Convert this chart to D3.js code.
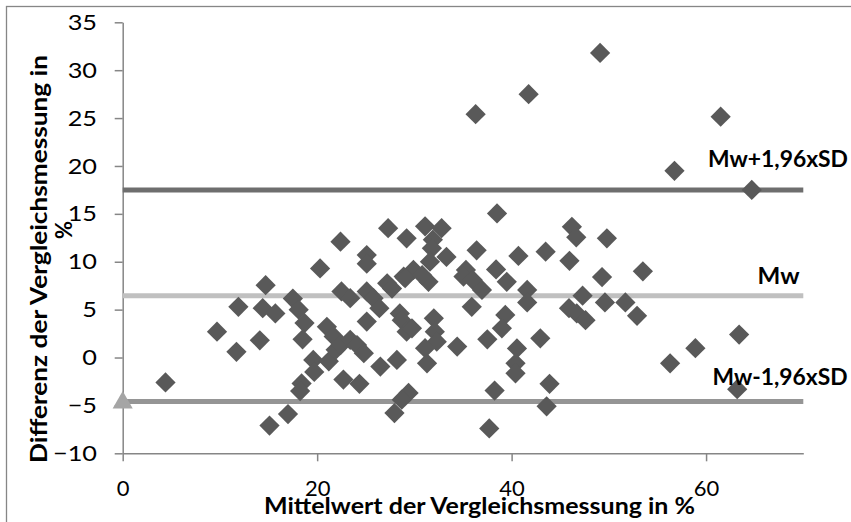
<!DOCTYPE html>
<html>
<head>
<meta charset="utf-8">
<script src="https://cdn.jsdelivr.net/npm/d3@7"></script>
<style>
body { margin: 0; background: #fff; }
text { font-family: Lato, "Open Sans", sans-serif; fill: #000; }
</style>
</head>
<body>
<script>
// Chart size and plot box
var w = 851;
var h = 522;
var plot = {left: 122.7, top: 22.3, right: 803.3, bottom: 453.3};

// Mean of both measurements (x) and their difference (y), in %
var meanVals = [4.4, 9.7, 11.7, 11.9, 14.7, 14.1, 14.4, 15.7, 15.1, 17.0,
    17.5, 18.1, 18.7, 18.5, 18.4, 18.25, 19.6, 19.7, 20.3, 21.0,
    21.2, 21.9, 21.7, 22.4, 22.5, 23.4, 22.7, 22.4, 23.4, 24.1,
    24.35, 24.8, 25.1, 25.1, 25.1, 25.1, 25.8, 26.4, 26.5, 27.3,
    27.2, 27.7, 28.2, 29.2, 28.9, 29.9, 28.5, 28.7, 29.2, 29.4,
    28.7, 27.95, 31.1, 32.8, 31.9, 31.8, 33.3, 31.6, 29.05, 31.45,
    30.8, 38.5, 36.4, 35.3, 35.05, 36.0, 36.95, 38.4, 39.5, 40.7,
    41.6, 41.6, 43.5, 46.2, 46.65, 45.95, 49.8, 49.3, 53.5, 47.3,
    45.9, 46.7, 47.6, 49.6, 51.7, 52.9, 35.9, 39.35, 39.0, 37.5,
    34.4, 40.55, 40.4, 40.4, 42.95, 43.9, 43.6, 38.25, 37.7, 56.3,
    58.9, 29.75, 32.0, 32.1, 32.3, 31.1, 31.3, 36.3, 41.75, 49.1,
    61.5, 56.75, 64.7, 63.4, 63.2];
var diffVals = [-2.6, 2.7, 0.6, 5.3, 7.55, 1.8, 5.15, 4.6, -7.1, -5.9,
    6.15, 5.0, 3.6, 1.9, -2.7, -3.5, -0.25, -1.5, 9.3, 3.2,
    -0.4, 0.8, 2.2, 12.1, 6.9, 6.2, -2.3, 1.3, 1.85, 1.3,
    -2.75, 0.45, 3.75, 10.7, 9.8, 6.9, 6.2, 5.15, -0.95, 13.5,
    7.75, 7.2, -0.25, 12.45, 8.45, 9.15, 4.6, 3.9, 2.7, -3.7,
    -4.4, -5.8, 13.7, 13.5, 12.3, 11.4, 10.5, 10.0, 8.3, 7.9,
    8.6, 15.05, 11.2, 9.15, 8.45, 8.1, 7.05, 9.2, 7.9, 10.6,
    7.05, 5.75, 11.05, 13.65, 12.55, 10.1, 12.45, 8.4, 9.0, 6.45,
    5.15, 4.6, 3.9, 5.75, 5.75, 4.35, 5.3, 4.45, 3.05, 1.9,
    1.15, 0.95, -0.6, -1.65, 2.0, -2.75, -5.1, -3.45, -7.4, -0.6,
    0.97, 3.05, 4.1, 2.7, 1.65, 0.97, -0.6, 25.4, 27.5, 31.8,
    25.15, 19.5, 17.5, 2.4, -3.3];

// Limits of agreement
var limitNames = ["Mw+1,96xSD", "Mw", "Mw-1,96xSD"];
var limitVals = [17.5, 6.45, -4.6];
var limitColors = ["#6e6e6e", "#c0c0c0", "#959595"];

// Axis ticks
var xTicks = [0, 20, 40, 60];
var yTicks = [-10, -5, 0, 5, 10, 15, 20, 25, 30, 35];

var xScale = d3.scaleLinear().domain([0, 70]).range([plot.left, plot.right]);
var yScale = d3.scaleLinear().domain([-10, 35]).range([plot.bottom, plot.top]);

var svg = d3.select("body")
    .append("svg")
    .attr("width", w)
    .attr("height", h);

// outer frame of the chart area (only left and top edge visible)
svg.append("rect")
    .attr("x", 6.5)
    .attr("y", 6.5)
    .attr("width", 1000)
    .attr("height", 1000)
    .attr("fill", "none")
    .attr("stroke", "#868686")
    .attr("stroke-width", 1.3);

// x axis
var xAxis = d3.axisBottom(xScale)
    .tickValues(xTicks)
    .tickSize(8)
    .tickSizeOuter(0)
    .tickPadding(18.8);

var gx = svg.append("g")
    .attr("transform", "translate(0," + plot.bottom + ")")
    .call(xAxis);

// y axis
var yAxis = d3.axisLeft(yScale)
    .tickValues(yTicks)
    .tickSize(8)
    .tickSizeOuter(0)
    .tickPadding(17.7);

var gy = svg.append("g")
    .attr("transform", "translate(" + plot.left + ",0)")
    .call(yAxis);

[gx, gy].forEach(function(g) {
    g.selectAll("path, line")
        .attr("stroke", "#868686")
        .attr("stroke-width", 1.5);
    g.selectAll("text")
        .attr("font-family", "Lato, sans-serif")
        .attr("font-size", 22)
        .attr("fill", "#000");
});

// the reference font runs a bit wider: stretch the tick labels
gy.selectAll("text").each(function() {
    var len = this.getComputedTextLength();
    d3.select(this)
        .attr("textLength", len * 1.15)
        .attr("lengthAdjust", "spacingAndGlyphs");
});

// limit lines
svg.selectAll(".limit")
    .data(limitVals)
    .enter()
    .append("line")
    .attr("class", "limit")
    .attr("x1", xScale(0))
    .attr("x2", xScale(70))
    .attr("y1", function(d) { return yScale(d); })
    .attr("y2", function(d) { return yScale(d); })
    .attr("stroke", function(d, i) { return limitColors[i]; })
    .attr("stroke-width", 5);

// points
var diamond = d3.symbol().type(d3.symbolSquare).size(205);
svg.selectAll(".pt")
    .data(meanVals)
    .enter()
    .append("path")
    .attr("class", "pt")
    .attr("d", diamond)
    .attr("fill", "#595959")
    .attr("transform", function(d, i) {
        return "translate(" + xScale(d) + "," + yScale(diffVals[i]) + ") rotate(45)";
    });

// marker of the lower limit series at x = 0
svg.append("path")
    .attr("d", d3.symbol().type(d3.symbolTriangle).size(175))
    .attr("fill", "#a5a5a5")
    .attr("transform", "translate(" + xScale(0) + "," + (yScale(limitVals[2]) + 1) + ")");

// labels for the limit lines: right end x, offset above the line, width
var labelPos = [[848, -23, 140], [799.5, -12, 42], [847.5, -17, 135]];
svg.selectAll(".limitLabel")
    .data(limitNames)
    .enter()
    .append("text")
    .attr("class", "limitLabel")
    .attr("x", function(d, i) { return labelPos[i][0] - labelPos[i][2]; })
    .attr("y", function(d, i) { return yScale(limitVals[i]) + labelPos[i][1]; })
    .attr("font-size", 22)
    .attr("font-weight", "bold")
    .attr("textLength", function(d, i) { return labelPos[i][2]; })
    .attr("lengthAdjust", "spacingAndGlyphs")
    .text(function(d) { return d; });

// x-axis title
svg.append("text")
    .attr("x", 264)
    .attr("y", 514)
    .attr("font-size", 22)
    .attr("font-weight", "bold")
    .attr("textLength", 431)
    .attr("lengthAdjust", "spacingAndGlyphs")
    .text("Mittelwert der Vergleichsmessung in %");

// y-axis title, two lines
svg.append("text")
    .attr("transform", "translate(47,463) rotate(-90)")
    .attr("font-size", 22)
    .attr("font-weight", "bold")
    .attr("textLength", 408)
    .attr("lengthAdjust", "spacingAndGlyphs")
    .text("Differenz der Vergleichsmessung in");

svg.append("text")
    .attr("transform", "translate(72,230) rotate(-90)")
    .attr("text-anchor", "middle")
    .attr("font-size", 22)
    .attr("font-weight", "bold")
    .text("%");
</script>
</body>
</html>
